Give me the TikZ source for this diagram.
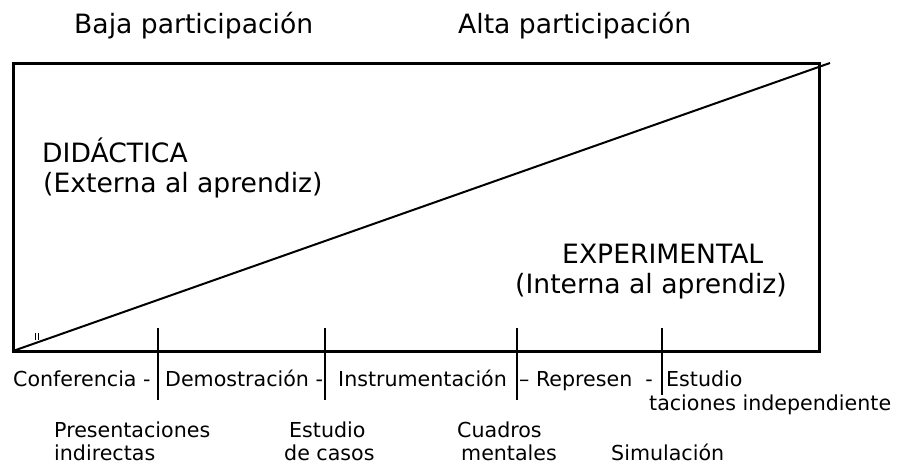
\documentclass[tikz,border=0pt]{standalone}
\usepackage{fontspec}
\setmainfont{DejaVu Sans}

\begin{document}
\begin{tikzpicture}[x=1pt,y=-1pt,
            big/.style={anchor=base west,inner sep=0pt,font=\fontsize{26.6}{30}\selectfont},
            small/.style={anchor=base west,inner sep=0pt,font=\fontsize{20.6}{24}\selectfont}]
            \useasboundingbox (0,0) rectangle (905,465);
            \coordinate (nw) at (13,64);
            \coordinate (se) at (819,351);
            \coordinate (sw) at (13,351);
            \coordinate (tip) at (830,63);
            \draw[line width=3pt] (nw) rectangle (se);
            \draw[line width=2pt] (sw) -- (tip);
            \draw[line width=1.6pt] (35.5,333) -- (35.5,340) (38.5,333) -- (38.5,340);
            \foreach \x/\y in {158/400,325/400,517/400,662/395}
                \draw[line width=2.2pt] (\x,328) -- (\x,\y);
            \node (baja) at (74,34) [big] {Baja participación};
            \node (alta) at (458,34) [big] {Alta participación};
            \node (did) at (42,163) [big] {DIDÁCTICA};
            \node (ext) at (43,193) [big] {(Externa al aprendiz)};
            \node (exp) at (562,263) [big] {EXPERIMENTAL};
            \node (int) at (515,293) [big] {(Interna al aprendiz)};
            \node (conf) at (13,386) [small] {Conferencia -};
            \node (demo) at (165,386) [small] {Demostración -};
            \node (instr) at (338,386) [small] {Instrumentación};
            \node (repr) at (519,386) [small] {– Represen \ -};
            \node (estu) at (666,386) [small] {Estudio};
            \node (tac) at (649,410) [small] {taciones independiente};
            \node (pres) at (54,437) [small] {Presentaciones};
            \node (ind) at (54,460) [small] {indirectas};
            \node (est) at (289,437) [small] {Estudio};
            \node (cas) at (284,460) [small] {de casos};
            \node (cua) at (457,437) [small] {Cuadros};
            \node (men) at (461,460) [small] {mentales};
            \node (sim) at (611,460) [small] {Simulación};
        \end{tikzpicture}
\end{document}
